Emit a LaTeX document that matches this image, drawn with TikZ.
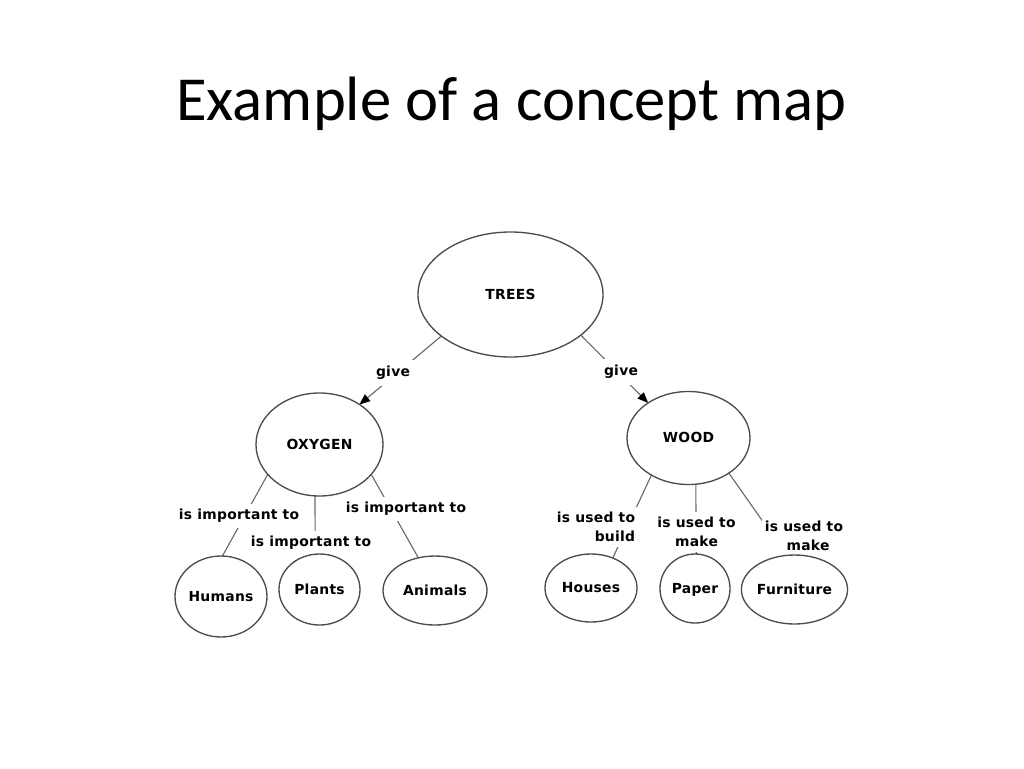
\documentclass[tikz,border=0pt]{standalone}
\usepackage{fontspec}
\setmainfont{Carlito}
\newfontfamily\labfont{DejaVu Sans}[LetterSpace=2]
\usetikzlibrary{shapes.geometric,arrows.meta,backgrounds}
\begin{document}
\begin{tikzpicture}[x=0.75pt,y=-0.75pt,
  txt/.style={font={\labfont\bfseries\fontsize{10.4pt}{14.25pt}\selectfont}},
  concept/.style 2 args={ellipse, draw=black!70, line width=1pt, inner sep=0pt, outer sep=0pt,
    minimum width=#1*1.5pt, minimum height=#2*1.5pt, text height=7.4pt, text depth=0pt, txt},
  lbl/.style={fill=white, inner xsep=2pt, inner ysep=4pt, align=center, txt},
  link/.style={draw=black!58, line width=0.85pt},
  arr/.style={link, -{Triangle[length=8pt,width=6.5pt,color=black]}}]
\useasboundingbox (0,0) rectangle (1024,768);

\node[font=\fontsize{47pt}{56pt}\selectfont, anchor=base, inner sep=0pt] (title) at (511.5,120) {Example of a concept map};

\node[concept={92.5}{62.5}] (trees) at (510.5,294.5) {TREES};
\node[concept={63.5}{51.5}] (oxygen) at (319.5,444.5) {OXYGEN};
\node[concept={61.5}{46.5}] (wood) at (688.5,438) {WOOD};
\node[concept={46}{40.5}] (humans) at (221,596.5) {Humans};
\node[concept={40.5}{35.5}] (plants) at (319.5,589.5) {Plants};
\node[concept={52}{34.5}] (animals) at (435,590.5) {Animals};
\node[concept={46}{34}] (houses) at (591,588) {Houses};
\node[concept={35}{34.5}] (paper) at (695,588.5) {Paper};
\node[concept={52.5}{34.5}] (furniture) at (794.5,589.5) {Furniture};

\begin{scope}[on background layer]
\fill[white] (0,0) rectangle (1024,768);
\draw[arr] (trees.211) -- (oxygen.45);
\draw[arr] (trees.330) -- (wood.139);
\draw[link] (oxygen.210) -- (humans.88);
\draw[link] (oxygen.265) -- (plants.97);
\draw[link] (oxygen.330) -- (animals.117);
\draw[link] (wood.225) -- (houses.54);
\draw[link] (wood.279) -- (paper.88);
\draw[link] (wood.319) -- (furniture.103);

\node[lbl, inner ysep=5pt] (give1) at (393,373) {give};
\node[lbl, inner ysep=5pt] (give2) at (621,372) {give};
\node[lbl] (imp1) at (239,516) {is important to};
\node[lbl] (imp2) at (311,543) {is important to};
\node[lbl] (imp3) at (406,509) {is important to};
\node[lbl, align=right] (use1) at (596,527) {is used to\\build\hspace{4pt}};
\node[lbl] (use2) at (696.5,532) {is used to\\make};
\node[lbl] (use3) at (804,535.5) {is used to\\\hspace{6pt}make};
\end{scope}
\end{tikzpicture}
\end{document}
